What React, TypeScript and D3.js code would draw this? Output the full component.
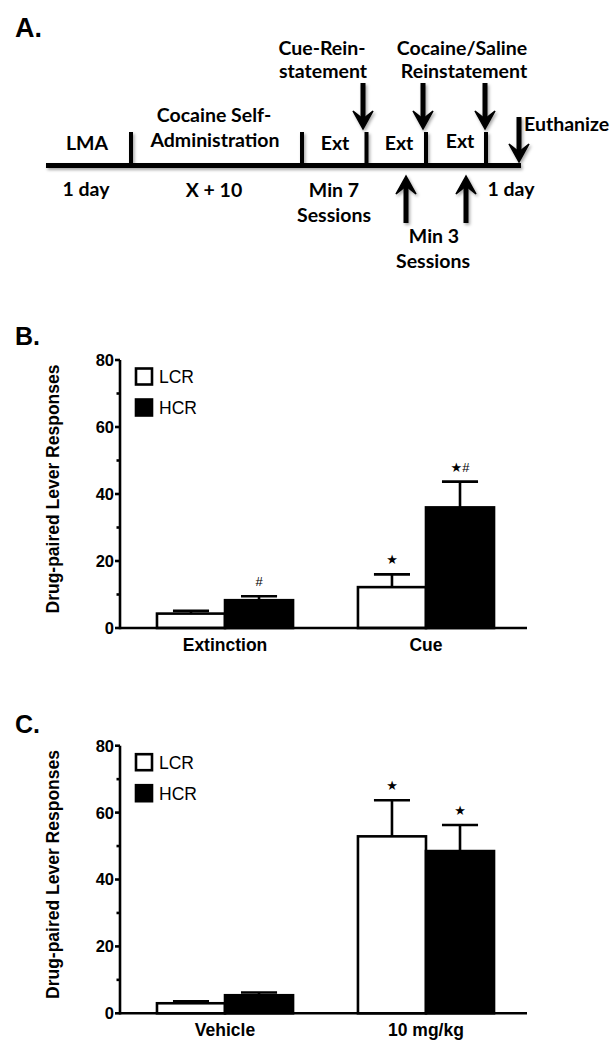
import React from "react";
import * as d3 from "d3";

// ---------- DATA ----------
const seriesNames = ["LCR", "HCR"];
const yTicks = [0, 20, 40, 60, 80];
const yMinorTicks = [10, 30, 50, 70];

const categoriesB = ["Extinction", "Cue"];
const lcrB = [4.3, 12.2];
const hcrB = [8.3, 36.0];
const lcrErrB = [0.8, 3.8];
const hcrErrB = [1.2, 7.7];
const marksLcrB = ["", "★"];
const marksHcrB = ["#", "★#"];

const categoriesC = ["Vehicle", "10 mg/kg"];
const lcrC = [3.0, 52.9];
const hcrC = [5.4, 48.5];
const lcrErrC = [0.6, 10.8];
const hcrErrC = [0.8, 7.8];
const marksLcrC = ["", "★"];
const marksHcrC = ["", "★"];

const yLabel = "Drug-paired Lever Responses";

// ---------- STYLE ----------
const ARIAL = "'Liberation Sans', Arial, Helvetica, sans-serif";
const CAL = "Lato, 'Open Sans', 'Noto Sans', sans-serif";
const SW = 2.6;

type PanelProps = {
  letter: string;
  letterY: number;
  y0: number;
  y80: number;
  categories: string[];
  lcr: number[];
  hcr: number[];
  lcrErr: number[];
  hcrErr: number[];
  marksL: string[];
  marksH: string[];
};

function BarPanel(p: PanelProps) {
  const y = d3.scaleLinear().domain([0, 80]).range([p.y0, p.y80]);
  const axisX = 120;
  const x = d3
    .scaleBand()
    .domain(p.categories)
    .range([axisX, 531])
    .paddingInner(0.323)
    .paddingOuter(0.184);
  const xs = d3.scaleBand().domain(seriesNames).range([0, x.bandwidth()]);
  const bw = xs.bandwidth();
  const capW = bw * 0.53;
  const series = [
    { name: "LCR", vals: p.lcr, errs: p.lcrErr, marks: p.marksL, fill: "#fff" },
    { name: "HCR", vals: p.hcr, errs: p.hcrErr, marks: p.marksH, fill: "#000" },
  ];
  const midY = (p.y0 + p.y80) / 2 - 5;
  return (
    <g>
      <text x={15} y={p.letterY} fontFamily={ARIAL} fontWeight="bold" fontSize={25}>
        {p.letter}
      </text>
      {/* y label */}
      <text
        transform={`translate(59,${midY}) rotate(-90)`}
        textAnchor="middle"
        fontFamily={ARIAL}
        fontWeight="bold"
        fontSize={17.5}
      >
        {yLabel}
      </text>
      {/* bars */}
      {p.categories.map((c, i) => (
        <g key={c}>
          {series.map((s) => {
            const bx = (x(c) as number) + (xs(s.name) as number);
            const top = y(s.vals[i]);
            const errTop = y(s.vals[i] + s.errs[i]);
            const cx = bx + bw / 2;
            return (
              <g key={s.name}>
                <line x1={cx} x2={cx} y1={top} y2={errTop} stroke="#000" strokeWidth={SW} />
                <line x1={cx - capW / 2} x2={cx + capW / 2} y1={errTop} y2={errTop} stroke="#000" strokeWidth={SW} />
                <rect
                  x={bx}
                  y={top}
                  width={bw}
                  height={y(0) - top}
                  fill={s.fill}
                  stroke="#000"
                  strokeWidth={SW}
                />
                {s.marks[i] ? (
                  <text
                    x={cx}
                    y={errTop - 10}
                    textAnchor="middle"
                    fontFamily={ARIAL + ", 'DejaVu Sans'"}
                    fontSize={13}
                  >
                    {s.marks[i]}
                  </text>
                ) : null}
              </g>
            );
          })}
          <text
            x={(x(c) as number) + x.bandwidth() / 2}
            y={p.y0 + 23}
            textAnchor="middle"
            fontFamily={ARIAL}
            fontWeight="bold"
            fontSize={17.5}
          >
            {c}
          </text>
        </g>
      ))}
      {/* axes */}
      <line x1={axisX} x2={527} y1={y(0)} y2={y(0)} stroke="#000" strokeWidth={SW} />
      <line x1={axisX} x2={axisX} y1={y(0) + SW / 2} y2={y(80)} stroke="#000" strokeWidth={SW} />
      {yTicks.map((t) => (
        <g key={t}>
          <line x1={axisX - 5} x2={axisX} y1={y(t)} y2={y(t)} stroke="#000" strokeWidth={SW} />
          <text
            x={axisX - 6}
            y={y(t)}
            dy="0.36em"
            textAnchor="end"
            fontFamily={ARIAL}
            fontWeight="bold"
            fontSize={16.5}
          >
            {t}
          </text>
        </g>
      ))}
      {yMinorTicks.map((t) => (
        <line key={t} x1={axisX - 3.5} x2={axisX} y1={y(t)} y2={y(t)} stroke="#000" strokeWidth={SW} />
      ))}
      {/* legend */}
      {series.map((s, k) => {
        const by = y(80) + 8.5 + k * 31;
        return (
          <g key={s.name}>
            <rect
              x={136}
              y={by}
              width={16}
              height={16}
              fill={s.fill}
              stroke="#000"
              strokeWidth={SW}
            />
            <text x={159} y={by + 8} dy="0.36em" fontFamily={ARIAL} fontSize={17.5}>
              {s.name}
            </text>
          </g>
        );
      })}
    </g>
  );
}

function DownArrow({ x, y1, y2 }: { x: number; y1: number; y2: number }) {
  return (
    <g>
      <line x1={x} x2={x} y1={y1} y2={y2 - 8} stroke="#000" strokeWidth={5} />
      <path
        d={`M${x},${y2} L${x - 10},${y2 - 18} L${x},${y2 - 10} L${x + 10},${y2 - 18} Z`}
        fill="#000"
        stroke="#000"
        strokeWidth={1.5}
        strokeLinejoin="miter"
      />
    </g>
  );
}

function UpArrow({ x, y1, y2 }: { x: number; y1: number; y2: number }) {
  return (
    <g>
      <line x1={x} x2={x} y1={y1 + 8} y2={y2} stroke="#000" strokeWidth={5} />
      <path
        d={`M${x},${y1} L${x - 10},${y1 + 18} L${x},${y1 + 10} L${x + 10},${y1 + 18} Z`}
        fill="#000"
        stroke="#000"
        strokeWidth={1.5}
      />
    </g>
  );
}

function Timeline() {
  const T = (props: any) => (
    <text fontFamily={CAL} fontWeight="bold" fontSize={19.5} textAnchor="middle" {...props} />
  );
  const tickXs = [131, 302, 366.5, 426, 486];
  return (
    <g>
      <defs>
        <filter id="sh" x="-20%" y="-20%" width="140%" height="140%">
          <feDropShadow dx={1.5} dy={2} stdDeviation={1.5} floodColor="#000" floodOpacity={0.35} />
        </filter>
      </defs>
      <text x={15} y={37} fontFamily={ARIAL} fontWeight="bold" fontSize={27}>
        A.
      </text>
      <g filter="url(#sh)">
        <line x1={46} x2={521} y1={165.5} y2={165.5} stroke="#000" strokeWidth={5} />
        {tickXs.map((tx) => (
          <line key={tx} x1={tx} x2={tx} y1={132} y2={166} stroke="#000" strokeWidth={4} />
        ))}
        <DownArrow x={363} y1={83} y2={129} />
        <DownArrow x={423} y1={83} y2={129} />
        <DownArrow x={485} y1={83} y2={129} />
        <DownArrow x={519} y1={117} y2={162} />
        <UpArrow x={406} y1={176} y2={223} />
        <UpArrow x={466} y1={176} y2={223} />
      </g>
      <T x={87} y={150}>LMA</T>
      <T x={214} y={122}>Cocaine Self-</T>
      <T x={215} y={147}>Administration</T>
      <T x={335} y={150}>Ext</T>
      <T x={399} y={150}>Ext</T>
      <T x={460} y={148}>Ext</T>
      <T x={322} y={55}>Cue-Rein-</T>
      <T x={323} y={78}>statement</T>
      <T x={462} y={55}>Cocaine/Saline</T>
      <T x={464} y={78}>Reinstatement</T>
      <T x={524} y={131} textAnchor="start">Euthanize</T>
      <T x={86} y={196}>1 day</T>
      <T x={214} y={197}>X + 10</T>
      <T x={334} y={197}>Min 7</T>
      <T x={334} y={222}>Sessions</T>
      <T x={511} y={196}>1 day</T>
      <T x={434} y={243}>Min 3</T>
      <T x={433} y={268}>Sessions</T>
    </g>
  );
}

export default function App() {
  return (
    <svg
      width={616}
      height={1049}
      viewBox="0 0 616 1049"
      style={{ position: "absolute", left: 0, top: 0, background: "#fff" }}
    >
      <rect x={0} y={0} width={616} height={1049} fill="#fff" />
      <Timeline />
      <BarPanel
        letter="B."
        letterY={345}
        y0={628}
        y80={360}
        categories={categoriesB}
        lcr={lcrB}
        hcr={hcrB}
        lcrErr={lcrErrB}
        hcrErr={hcrErrB}
        marksL={marksLcrB}
        marksH={marksHcrB}
      />
      <BarPanel
        letter="C."
        letterY={733}
        y0={1013.3}
        y80={745.7}
        categories={categoriesC}
        lcr={lcrC}
        hcr={hcrC}
        lcrErr={lcrErrC}
        hcrErr={hcrErrC}
        marksL={marksLcrC}
        marksH={marksHcrC}
      />
    </svg>
  );
}
